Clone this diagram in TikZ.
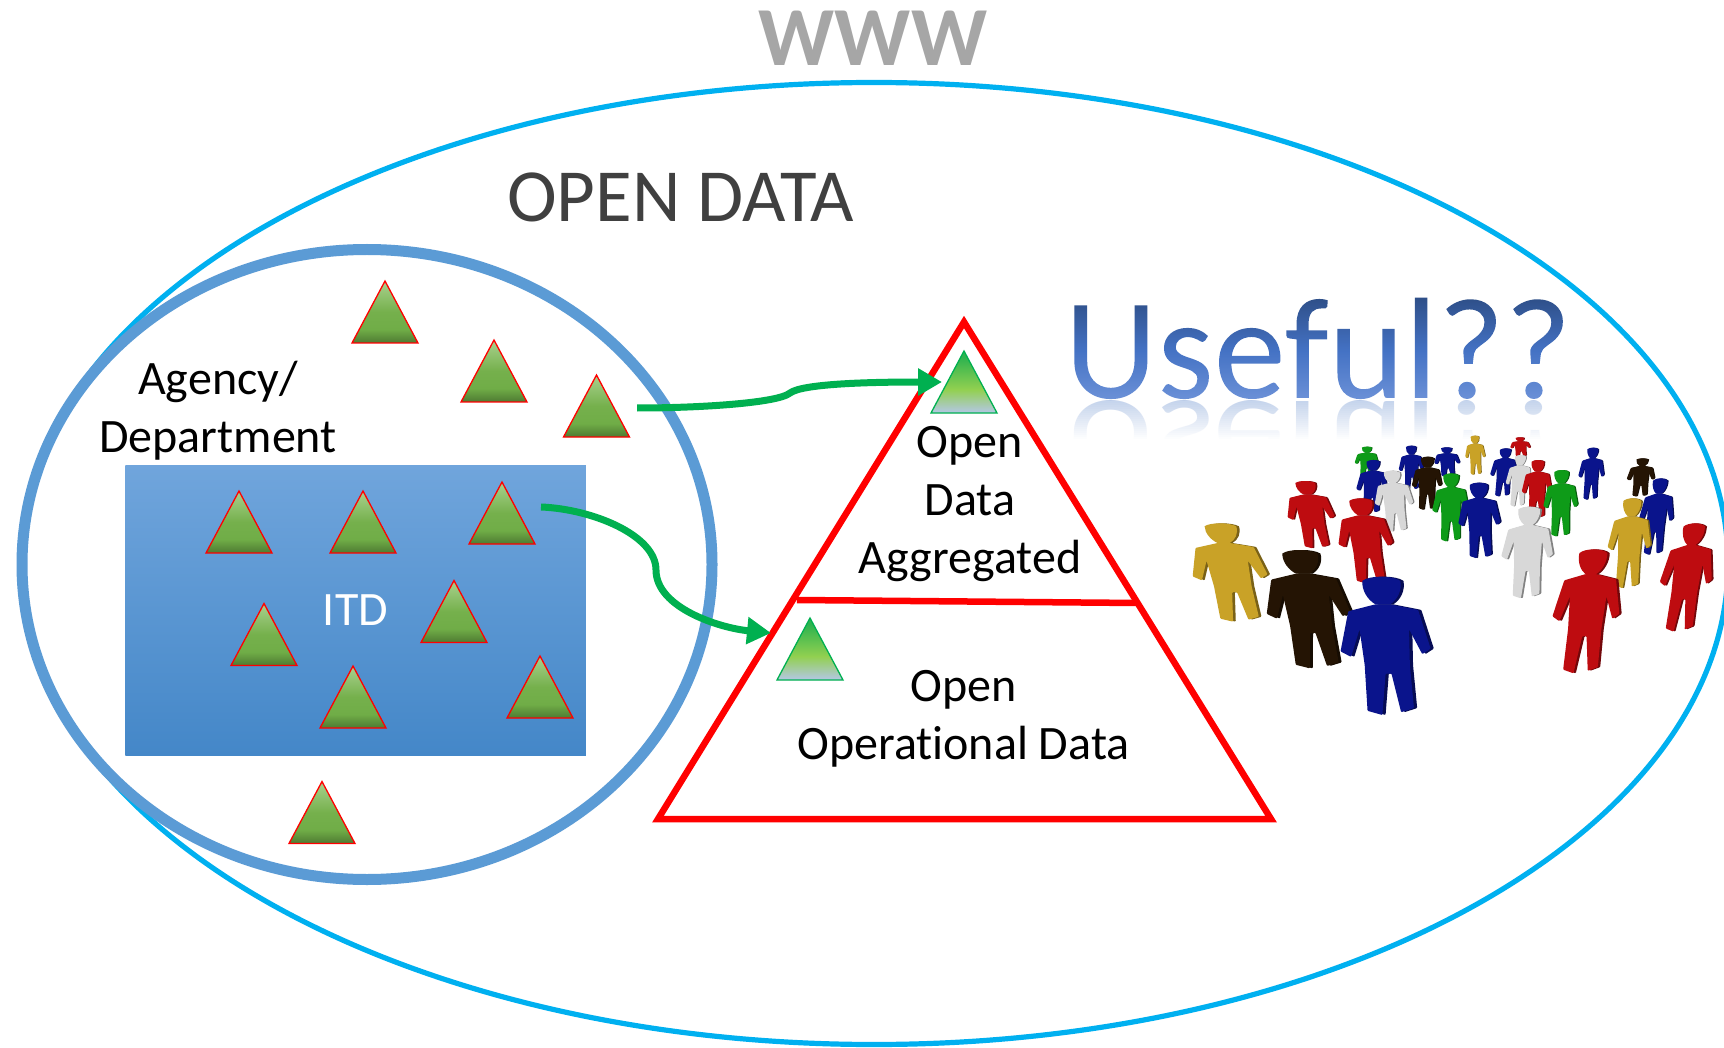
\documentclass[tikz,border=0pt]{standalone}
\usepackage{fontspec}
\setmainfont{Carlito}[Ligatures=NoCommon]
\usetikzlibrary{shapes.geometric,arrows.meta}
\definecolor{cyanring}{HTML}{00B0F0}
\definecolor{bluering}{HTML}{5B9BD5}
\definecolor{arrowgreen}{HTML}{00B050}
\definecolor{bigred}{HTML}{FF0000}
\definecolor{usefulref}{HTML}{B4C7E7}
\definecolor{rA}{HTML}{4E7A32}\definecolor{rB}{HTML}{70AD47}\definecolor{rC}{HTML}{75B04C}\definecolor{rD}{HTML}{A9D18E}
\definecolor{gA}{HTML}{B4C7E7}\definecolor{gB}{HTML}{92D050}\definecolor{gC}{HTML}{2DB34F}
\definecolor{bA}{HTML}{4487C8}\definecolor{bB}{HTML}{70A5DC}
\definecolor{uA}{HTML}{6D92D8}\definecolor{uB}{HTML}{4472C4}\definecolor{uC}{HTML}{2B4A80}
\definecolor{pYellow}{HTML}{C9A227}\definecolor{pBlack}{HTML}{241404}\definecolor{pBlue}{HTML}{0A148C}
\definecolor{pRed}{HTML}{BE0C10}\definecolor{pGreen}{HTML}{0E9B18}\definecolor{pWhite}{HTML}{D8D8D8}
\pgfdeclareverticalshading{redtrishade}{100bp}{color(0bp)=(rA);color(25bp)=(rA);color(36bp)=(rB);color(50bp)=(rC);color(75bp)=(rD);color(100bp)=(rD)}
\pgfdeclareverticalshading{greentrishade}{100bp}{color(0bp)=(gA);color(25bp)=(gA);color(44bp)=(gB);color(70bp)=(gC);color(100bp)=(gC)}
\pgfdeclareverticalshading{rectshade}{100bp}{color(0bp)=(bA);color(25bp)=(bA);color(75bp)=(bB);color(100bp)=(bB)}
\pgfdeclareverticalshading{usefulshade}{100bp}{color(0bp)=(uA);color(25bp)=(uA);color(48bp)=(uB);color(75bp)=(uC);color(100bp)=(uC)}
\tikzset{
  tribase/.style={isosceles triangle,isosceles triangle stretches,shape border rotate=90,
    minimum width=66pt,minimum height=62pt,inner sep=0pt,outer sep=0pt,anchor=apex},
  redtri/.style={tribase,draw=red,line width=1.3pt,shade,shading=redtrishade},
  greentri/.style={tribase,draw=arrowgreen,line width=1.3pt,shade,shading=greentrishade},
  flowarrow/.style={draw=arrowgreen,line width=7pt,-{Triangle[length=24pt,width=26pt]}},
  pyramid/.style={draw=bigred,line width=6.5pt},
  bodytext/.style={font=\fontsize{48}{58}\selectfont,align=center,text=black,inner sep=0pt},
}
\newcommand{\manbody}{(-5,20) -- (-24,25) -- (-31,54) -- (-24,58) -- (-17,38) -- (-15,64) -- (-15,97) -- (-5,100)
        -- (-1,70) -- (3,70) -- (8,98) -- (17,95) -- (16,64) -- (17,38) -- (25,56) -- (31,52)
        -- (24,24) -- (5,20) -- cycle}
\newcommand{\manhead}{(-13,3) .. controls (-8,-1) and (8,-1) .. (13,3) .. controls (14,10) and (10,17) .. (5,20) -- (-5,20) .. controls (-10,17) and (-14,10) .. (-13,3) -- cycle}
% head top (hx,hy), feet (fx,fy), arm span: measured on a crop with corner (1050,280), factors 2.326 and 3
\newcommand{\crowdman}[6]{%
  \pgfmathsetmacro{\ha}{#5/2.326/62}%
  \pgfmathsetmacro{\hc}{-(#3-(#1))/232.6}%
  \pgfmathsetmacro{\hd}{(#4-(#2))/300}%
  \pgfmathsetmacro{\htx}{1050+#1/2.326}%
  \pgfmathsetmacro{\hty}{280+#2/3}%
  \begin{scope}[cm={\ha,0,\hc,\hd,(\htx,\hty)},x=1pt,y=-1pt]
    \fill[#6!60!black,rounded corners=0.9pt,xshift=2.2pt] \manbody;
    \fill[#6!60!black,xshift=2.2pt] \manhead;
    \fill[#6,rounded corners=0.9pt] \manbody;
    \fill[#6] \manhead;
  \end{scope}}
\newsavebox{\usefulbox}
\begin{document}
\begin{tikzpicture}[x=1pt,y=-1pt]
\useasboundingbox (0,0) rectangle (1724,1048);
\fill[white] (0,0) rectangle (1724,1048);
\begin{scope}
\clip (0,0) rectangle (1724,1048);
\node[ellipse,draw=cyanring,line width=5.2pt,minimum width=1708pt,minimum height=962pt,inner sep=0pt,outer sep=0pt] (www) at (874,563.5) {};
\end{scope}
\node[ellipse,draw=bluering,line width=11pt,minimum width=690pt,minimum height=630pt,inner sep=0pt,outer sep=0pt] (agency) at (367,564.5) {};
\node[font=\fontsize{84}{84}\selectfont\bfseries,text=black!35,anchor=base,inner sep=0pt] (wwwlabel) at (873,66) {WWW};
\node[font=\fontsize{75}{75}\selectfont,text=black!75,anchor=base west,inner sep=0pt] (opendata) at (507,222) {OPEN DATA};
\node[bodytext] (agencylabel) at (218,411) {Agency/\\Department};
\node[rectangle,minimum width=460.5pt,minimum height=290pt,inner sep=0pt,outer sep=0pt,shade,shading=rectshade,text=white,font=\fontsize{48}{48}\selectfont] (itd) at (355.5,610) {\raisebox{-1pt}{ITD}};
% small triangles
\node[redtri] (t1) at (385,281) {};
\node[redtri] (t2) at (494,340) {};
\node[redtri] (t3) at (596.5,375) {};
\node[redtri] (t4) at (239,491) {};
\node[redtri] (t5) at (363,491) {};
\node[redtri] (t6) at (502,482) {};
\node[redtri] (t7) at (264,603.5) {};
\node[redtri] (t8) at (454,580.5) {};
\node[redtri] (t9) at (353,666) {};
\node[redtri] (t10) at (540,656) {};
\node[redtri] (t11) at (322,781.5) {};
% pyramid
\coordinate (pa) at (964,322);
\coordinate (pl) at (658,819);
\coordinate (pr) at (1271,819);
\coordinate (ml) at (797,600);
\coordinate (mr) at (1138,603);
\draw[pyramid,miter limit=10] (pa) -- (pr) -- (pl) -- cycle;
\draw[pyramid] (ml) -- (mr);
\node[greentri] (g1) at (964,351) {};
\node[greentri] (g2) at (810,618) {};
\node[bodytext] (agg) at (970,504) {Open\\Data\\Aggregated};
\node[bodytext] (oper) at (963.5,719) {Open\\Operational Data};
% connectors
\coordinate (a1s) at (637,408);
\coordinate (a1k) at (790,393);
\coordinate (a1e) at (942,382);
\coordinate (a2s) at (541,507);
\coordinate (a2k) at (656,570);
\coordinate (a2e) at (771,633);
\draw[flowarrow] (a1s) .. controls (700,408) and (778,403) .. (a1k) .. controls (802,384) and (865,382) .. (a1e);
\draw[flowarrow] (a2s) .. controls (592,509) and (656,535) .. (a2k) .. controls (656,608) and (720,628) .. (a2e);
% reflection of the title
\begin{scope}
\clip (1060,401) rectangle (1580,442);
\node[font=\fontsize{144.5}{144.5}\selectfont,text=usefulref,anchor=base west,inner sep=0pt,yscale=-0.85] (reflect) at (1064.5,402) {Useful??};
\foreach \i in {0,...,20}{
  \pgfmathsetmacro{\op}{min(1,0.25+\i*0.04)}
  \fill[white,opacity=\op] (1060,{401+\i*2}) rectangle (1580,{403+\i*2});
}
\end{scope}
% people, back to front
\crowdman{1093}{472}{1095}{530}{48}{pRed}
\crowdman{737}{500}{735}{590}{55}{pGreen}
\crowdman{988}{467}{990}{585}{47}{pYellow}
\crowdman{922}{502}{925}{590}{60}{pBlue}
\crowdman{840}{497}{840}{630}{58}{pBlue}
\crowdman{1060}{505}{1050}{650}{62}{pBlue}
\crowdman{1378}{535}{1370}{650}{65}{pBlack}
\crowdman{1263}{503}{1255}{660}{60}{pBlue}
\crowdman{1095}{525}{1085}{680}{60}{pWhite}
\crowdman{878}{530}{875}{690}{70}{pBlack}
\crowdman{752}{540}{745}{700}{72}{pBlue}
\crowdman{1135}{540}{1130}{715}{70}{pRed}
\crowdman{795}{572}{805}{755}{90}{pWhite}
\crowdman{1190}{570}{1185}{770}{80}{pGreen}
\crowdman{933}{580}{930}{785}{85}{pGreen}
\crowdman{593}{603}{620}{805}{110}{pRed}
\crowdman{1420}{595}{1400}{825}{80}{pBlue}
\crowdman{997}{608}{1000}{835}{98}{pBlue}
\crowdman{722}{655}{745}{910}{127}{pRed}
\crowdman{1355}{655}{1340}{925}{100}{pYellow}
\crowdman{1115}{680}{1105}{955}{120}{pWhite}
\crowdman{395}{730}{440}{1025}{175}{pYellow}
\crowdman{1500}{730}{1460}{1055}{120}{pRed}
\crowdman{580}{810}{620}{1165}{195}{pBlack}
\crowdman{1265}{808}{1230}{1180}{155}{pRed}
\crowdman{770}{890}{790}{1305}{210}{pBlue}
% title: real text used as a clip for a gradient
\node[anchor=base west,inner sep=0pt,outer sep=0pt] (useful) at (1064.5,398) {%
  \sbox{\usefulbox}{\fontsize{144.5}{144.5}\selectfont Useful??}%
  \hbox to \wd\usefulbox{%
    \special{pdf:code q 7 Tr}\rlap{\usebox{\usefulbox}}\special{pdf:code 0 Tr}%
    \rlap{\tikz[baseline=0pt,x=1pt,y=1pt]{\shade[shading=usefulshade] (-2,-4) rectangle (\wd\usefulbox+2pt,108);}}%
    \special{pdf:code Q}\hfil}};
\end{tikzpicture}
\end{document}
